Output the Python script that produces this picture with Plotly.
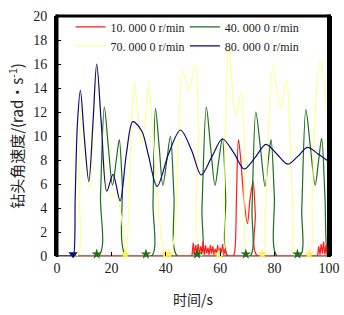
import plotly.graph_objects as go

# ---- data ----
t_red = [0, 49.6, 62.6, 64.8, 65.4, 66.0, 66.7, 67.5, 68.6, 70.0, 71.0, 72.1, 72.9, 73.7, 95.8, 100]
w_red = [0, 0, 0, 0, 0.5, 5.0, 9.7, 8.2, 5.0, 2.7, 4.8, 6.2, 3.5, 0, 0, 0]

t_red_noise = [49.6, 50.1, 50.5, 51.0, 51.4, 51.9, 52.3, 52.8, 53.2, 53.7, 54.1, 54.6, 55.0, 55.5,
               55.9, 56.4, 56.8, 57.3, 57.7, 58.2, 58.6, 59.1, 59.5, 60.0, 60.4, 60.9, 61.3, 61.8, 62.2, 62.6,
               95.8, 96.2, 96.7, 97.1, 97.6, 98.0, 98.5, 98.9, 99.4, 99.8]
w_red_noise = [0, 1.1, 0.1, 0.9, 0.2, 1.0, 0.1, 0.8, 0.3, 1.2, 0.1, 0.9, 0.2, 0.7,
               0.1, 0.9, 0.2, 0.8, 0.1, 0.6, 0.2, 0.9, 0.1, 0.7, 0.2, 1.0, 0.1, 0.6, 0.2, 0,
               0, 0.8, 0.1, 1.0, 0.2, 1.2, 0.1, 0.9, 0.3, 0]

t_green = [0, 15.3, 16.0, 17.4, 18.9, 20.4, 21.8, 22.9, 24.0, 25.4,
           34.8, 35.3, 36.2, 37.6, 38.9, 40.4, 41.7, 43.0, 44.2,
           52.6, 53.3, 54.9, 56.5, 58.1, 59.5, 60.8, 62.0, 62.9,
           71.0, 71.7, 73.1, 74.8, 76.5, 77.6, 78.7, 79.9, 80.9,
           89.3, 90.0, 91.5, 93.2, 94.9, 96.2, 97.3, 98.5, 99.5, 100]
w_green = [0, 0, 5.0, 12.4, 9.0, 5.9, 8.0, 9.7, 6.0, 0,
           0, 4.5, 12.3, 9.0, 5.9, 8.0, 10.0, 5.0, 0,
           0, 4.0, 12.4, 9.0, 5.9, 8.0, 9.8, 5.0, 0,
           0, 4.0, 12.0, 9.0, 5.8, 7.8, 9.7, 5.0, 0,
           0, 4.0, 12.2, 9.0, 5.9, 8.0, 9.8, 5.0, 0, 0]

t_yellow = [0, 7.3, 8.0, 9.0, 10.5, 12.1, 13.4, 14.7, 16.2, 17.6, 19.6, 21.5, 23.5, 25.3,
            26.3, 27.3, 28.5, 29.8, 31.2, 32.5, 33.7, 35.0, 36.5, 38.0, 39.9,
            41.5, 43.3, 44.8, 46.2, 48.4, 50.9, 52.0, 53.2,
            60.5, 61.5, 62.3, 63.2, 64.3, 65.8, 67.7, 69.0, 70.5,
            75.5, 76.5, 77.8, 79.5, 81.0, 82.3, 83.4, 84.5, 85.7, 86.8, 87.4,
            92.5, 93.8, 95.0, 96.6, 98.0, 99.3, 100]
w_yellow = [0, 0, 6.0, 13.2, 9.0, 5.6, 11.0, 15.8, 11.0, 7.5, 5.0, 5.2, 3.5, 0,
            3.0, 11.0, 14.5, 11.5, 9.4, 11.5, 14.5, 11.0, 6.5, 2.5, 0,
            0, 2.0, 11.0, 15.4, 13.8, 16.0, 11.0, 0,
            0, 5.0, 14.0, 17.4, 14.5, 11.6, 13.6, 9.0, 0,
            0, 3.0, 11.0, 15.9, 13.5, 12.3, 13.5, 14.7, 10.0, 3.0, 0,
            0, 5.0, 12.0, 16.3, 15.0, 12.2, 13.1]

t_blue = [0, 5.5, 6.0, 6.7, 7.5, 8.6, 10.0, 11.7, 13.2, 14.6, 16.3, 18.3, 20.6, 23.2, 25.5,
          27.9, 31.2, 33.5, 36.8, 41.0, 45.4, 49.5, 53.0, 57.0, 60.8, 65.0, 68.8,
          72.8, 76.8, 80.8, 84.8, 88.5, 92.1, 96.0, 100]
w_blue = [0, 0, 0, 5.0, 11.0, 13.8, 10.0, 6.2, 11.0, 16.0, 11.0, 5.4, 6.8, 4.6, 8.5,
          11.2, 10.4, 8.5, 5.8, 8.5, 10.5, 8.8, 6.75, 8.3, 9.75, 8.6, 7.25,
          8.2, 9.3, 8.5, 7.65, 8.3, 9.05, 8.5, 7.85]

# stick points near zero
t_blue_stick = [5.9]
t_green_stick = [14.6, 32.7, 51.5, 69.4, 88.4]
t_yellow_stick = [25.1, 39.9, 41.0, 59.5, 75.5, 92.7]

names = ["10. 000 0 r/min", "40. 000 0 r/min", "70. 000 0 r/min", "80. 000 0 r/min"]
c_red, c_green, c_yellow, c_blue = "#ff1a1a", "#1b6e1b", "#ffff96", "#0a0a78"

x_ticks = [0, 20, 40, 60, 80, 100]
y_ticks = [0, 2, 4, 6, 8, 10, 12, 14, 16, 18, 20]

fig = go.Figure()

def curve(x, y, color, name, legend, show=True, shape="spline"):
    fig.add_trace(go.Scatter(
        x=x, y=y, mode="lines", name=name, showlegend=show, legend=legend,
        line=dict(color=color, width=1.2, shape=shape, smoothing=0.9 if shape == "spline" else None),
        hoverinfo="skip"))

curve(t_red, w_red, c_red, names[0], "legend")
curve(t_green, w_green, c_green, names[1], "legend2")
curve(t_yellow, w_yellow, c_yellow, names[2], "legend")
curve(t_red_noise, w_red_noise, c_red, "", "legend", show=False, shape="linear")
curve(t_blue, w_blue, c_blue, names[3], "legend2")

def stick(x, color, symbol):
    fig.add_trace(go.Scatter(
        x=x, y=[0.15] * len(x), mode="markers", showlegend=False,
        marker=dict(color=color, symbol=symbol, size=8), hoverinfo="skip", cliponaxis=False))

stick(t_green_stick, c_green, "star")
stick(t_yellow_stick, "#f5f060", "star")
stick(t_blue_stick, c_blue, "triangle-down")

serif = "Liberation Serif"
cjk = "Noto Sans CJK SC"

legend_common = dict(bgcolor="rgba(0,0,0,0)", borderwidth=0, font=dict(family=serif, size=12, color="#222"),
                     orientation="v", xanchor="left", yanchor="top", tracegroupgap=0,
                     itemwidth=30)

fig.update_layout(
    width=344, height=315,
    margin=dict(l=57, r=15, t=16, b=59),
    paper_bgcolor="white", plot_bgcolor="white",
    legend=dict(x=0.05, y=1.015, **legend_common),
    legend2=dict(x=0.47, y=1.015, **legend_common),
    xaxis=dict(range=[0, 100], tickvals=x_ticks, ticktext=[str(v) for v in x_ticks],
               ticks="inside", ticklen=4, tickcolor="black", showgrid=False, zeroline=False,
               showline=False, automargin=False, ticklabelstandoff=2,
               tickfont=dict(family=serif, size=14, color="#222"),
               title=dict(text="时间/s", font=dict(family=cjk, size=14, color="#222"), standoff=20)),
    yaxis=dict(range=[0, 20], tickvals=y_ticks, ticktext=[str(v) for v in y_ticks],
               ticks="inside", ticklen=4, tickcolor="black", showgrid=False, zeroline=False,
               showline=True, linecolor="black", linewidth=3, mirror=True,
               automargin=False, ticklabelstandoff=4,
               tickfont=dict(family=serif, size=14, color="#222"),
               title=dict(text="钻头角速度/(rad·s<sup>-1</sup>)", font=dict(family=cjk, size=15, color="#222"),
                          standoff=6)),
    shapes=[
        dict(type="line", xref="paper", yref="paper", x0=0, x1=0, y0=-0.004, y1=1.006,
             line=dict(color="black", width=3), layer="above"),
        dict(type="line", xref="paper", yref="paper", x0=-0.005, x1=1.005, y0=1, y1=1,
             line=dict(color="black", width=3), layer="above"),
        dict(type="line", xref="paper", yref="paper", x0=1, x1=1, y0=-0.004, y1=1.006,
             line=dict(color="black", width=4), layer="above"),
        dict(type="line", xref="paper", yref="paper", x0=0, x1=1, y0=0, y1=0,
             line=dict(color="#5a3a2a", width=1), layer="below"),
    ],
)

fig.write_html("out.html", config={"displayModeBar": False},
               post_script="document.body.style.margin='0';document.body.style.overflow='hidden';")
